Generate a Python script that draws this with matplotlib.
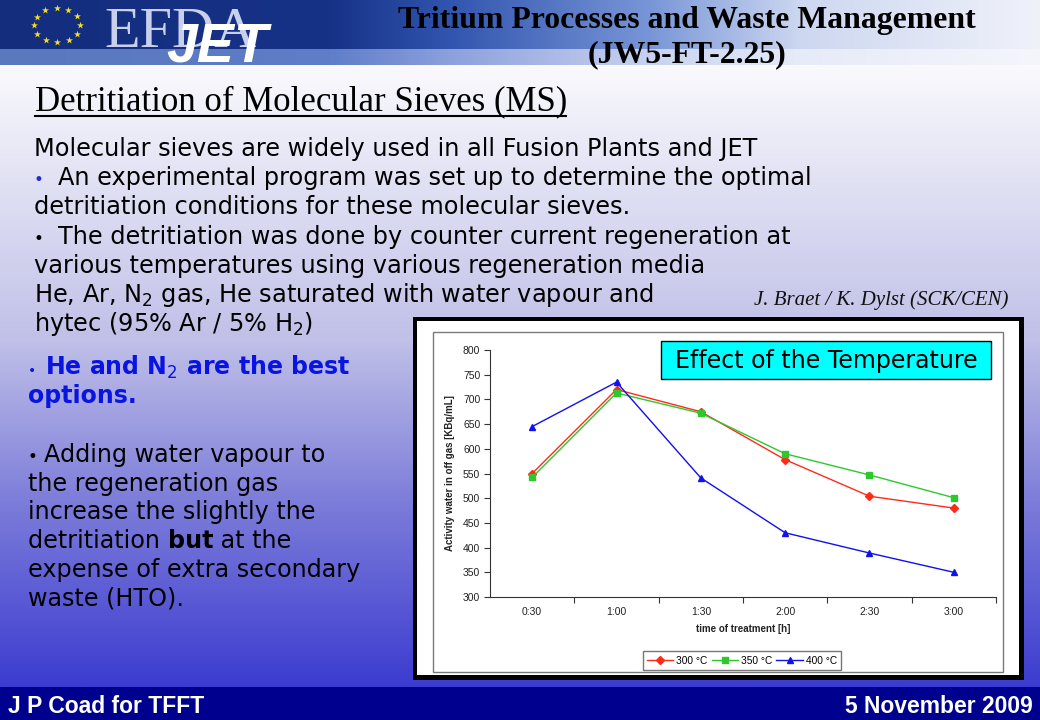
import numpy as np
import matplotlib
matplotlib.use("Agg")
import matplotlib.pyplot as plt
from matplotlib.patches import Rectangle

# ---------------- data ----------------
times = ["0:30", "1:00", "1:30", "2:00", "2:30", "3:00"]
series_labels = ["300 °C", "350 °C", "400 °C"]
act_300 = [550, 720, 675, 578, 504, 480]
act_350 = [542, 713, 672, 590, 547, 501]
act_400 = [645, 735, 541, 430, 389, 350]
y_ticks = [300, 350, 400, 450, 500, 550, 600, 650, 700, 750, 800]

W, H = 1040, 720
fig = plt.figure(figsize=(W / 100, H / 100), dpi=100)

# background axes in pixel coordinates
bg = fig.add_axes([0, 0, 1, 1])
bg.set_xlim(0, W)
bg.set_ylim(H, 0)
bg.axis("off")

# slide vertical gradient
ys = np.arange(H)
stops_y = [0, 65, 130, 340, 500, 690, 720]
r = np.interp(ys, stops_y, [250, 250, 236, 192, 125, 58, 58])
g = np.interp(ys, stops_y, [250, 250, 236, 192, 125, 58, 58])
b = np.interp(ys, stops_y, [253, 253, 248, 232, 218, 208, 208])
grad = np.stack([r, g, b], axis=1)[:, None, :] / 255.0
grad = np.repeat(grad, 2, axis=1)
bg.imshow(grad, extent=[0, W, H, 0], aspect="auto", zorder=0)

# header banner
bx = np.arange(W)
bh = 65
ban = np.zeros((bh, W, 3))
xs_stop = [0, 330, 450, 650, 800, 1040]
top_r = np.interp(bx, xs_stop, [20, 22, 50, 120, 205, 240])
top_g = np.interp(bx, xs_stop, [45, 50, 85, 150, 215, 242])
top_b = np.interp(bx, xs_stop, [125, 135, 175, 215, 240, 250])
bot_r = np.interp(bx, xs_stop, [90, 95, 140, 200, 230, 245])
bot_g = np.interp(bx, xs_stop, [120, 125, 160, 210, 235, 246])
bot_b = np.interp(bx, xs_stop, [190, 200, 220, 240, 248, 252])
for yy in range(bh):
    f = 0.0 if yy < 49 else 1.0
    ban[yy, :, 0] = top_r * (1 - f) + bot_r * f
    ban[yy, :, 1] = top_g * (1 - f) + bot_g * f
    ban[yy, :, 2] = top_b * (1 - f) + bot_b * f
bg.imshow(ban / 255.0, extent=[0, W, bh, 0], aspect="auto", zorder=1)

# EU stars
ang = np.linspace(0, 2 * np.pi, 13)[:-1]
bg.scatter(57 + 23 * np.cos(ang), 25 + 17 * np.sin(ang), marker="*", s=28,
           color="#f5e020", zorder=3, linewidths=0)
bg.text(104, 47, "EFDA", family="Liberation Serif", fontsize=42, color="#c9d0ee",
        va="baseline", ha="left", zorder=3)
bg.text(166, 62, "JET", family="Liberation Sans", fontsize=40, color="white",
        fontweight="bold", fontstyle="italic", va="baseline", ha="left", zorder=4)

# header title
bg.text(687, 28, "Tritium Processes and Waste Management", family="Liberation Serif",
        fontweight="bold", fontsize=22.9, ha="center", va="baseline", color="black", zorder=5)
bg.text(687, 62, "(JW5-FT-2.25)", family="Liberation Serif",
        fontweight="bold", fontsize=22.9, ha="center", va="baseline", color="black", zorder=5)

# section heading
bg.text(35, 110, "Detritiation of Molecular Sieves (MS)", family="Liberation Serif",
        fontsize=25, ha="left", va="baseline", color="black", zorder=5)
bg.plot([35, 566], [116, 116], color="black", lw=1.5, zorder=5)

fig.canvas.draw()
renderer = fig.canvas.get_renderer()


def rich(x, y, pieces, size, family="DejaVu Sans"):
    for s, kw in pieces:
        kw = dict(kw)
        fs = kw.pop("fontsize", size)
        if "x" in kw:
            x = kw.pop("x")
        t = bg.text(x, y, s, fontsize=fs, family=family, ha="left",
                    va="baseline", zorder=6, **kw)
        x += t.get_window_extent(renderer).width


body = 17.3
blk = {"color": "black"}
lines_top = [
    [("Molecular sieves are widely used in all Fusion Plants and JET", blk)],
    [("•", {"color": "#2030d0", "fontsize": 12, "x": 34}),
     ("An experimental program was set up to determine the optimal", {"color": "black", "x": 58})],
    [("detritiation conditions for these molecular sieves.", blk)],
    [("•", {"color": "black", "fontsize": 12, "x": 34}),
     ("The detritiation was done by counter current regeneration at", {"color": "black", "x": 58})],
    [("various temperatures using various regeneration media", blk)],
    [("He, Ar, N$_2$ gas, He saturated with water vapour and", blk)],
    [("hytec (95% Ar / 5% H$_2$)", blk)],
]
for i, ln in enumerate(lines_top):
    rich(34, 156 + 29.2 * i, ln, body)

blue = {"color": "#0a14e0", "fontweight": "bold"}
rich(28, 375, [("•", {"color": "#0a14e0", "fontsize": 10}),
               ("He and N$_2$ are the best", dict(blue, x=45))], 17)
rich(28, 403, [("options.", blue)], 17)

left_lines = [
    [("•", {"color": "black", "fontsize": 12}), ("Adding water vapour to", {"color": "black", "x": 44})],
    [("the regeneration gas", blk)],
    [("increase the slightly the", blk)],
    [("detritiation ", blk), ("but", {"color": "black", "fontweight": "bold"}), (" at the", blk)],
    [("expense of extra secondary", blk)],
    [("waste (HTO).", blk)],
]
for i, ln in enumerate(left_lines):
    rich(28, 462 + 28.7 * i, ln, 17.2)

bg.text(1008, 305, "J. Braet / K. Dylst (SCK/CEN)", family="Liberation Serif",
        fontstyle="italic", fontsize=15, ha="right", va="baseline", color="#111111", zorder=5)

# chart frame
bg.add_patch(Rectangle((413, 317), 611, 363, facecolor="black", edgecolor="none", zorder=2))
bg.add_patch(Rectangle((417, 321), 602, 354, facecolor="white", edgecolor="none", zorder=2))
bg.add_patch(Rectangle((433, 332), 570, 340, facecolor="none", edgecolor="#7a7a7a",
                       lw=1.0, zorder=3))

# bottom bar
bg.add_patch(Rectangle((0, 687), W, 33, facecolor="#00008e", edgecolor="none", zorder=2))
bg.text(8, 713, "J P Coad for TFFT", family="Liberation Sans", fontweight="bold",
        fontsize=16.5, color="white", ha="left", va="baseline", zorder=5)
bg.text(1033, 713, "5 November 2009", family="Liberation Sans", fontweight="bold",
        fontsize=16.5, color="white", ha="right", va="baseline", zorder=5)

# ---------------- chart ----------------
L, R, T, B = 490, 996, 350, 597
ax = fig.add_axes([L / W, (H - B) / H, (R - L) / W, (B - T) / H])
ax.set_facecolor("none")
x = np.arange(len(times))
ax.plot(x, act_300, color="#ff2a1a", lw=1.0, marker="D", ms=4, label=series_labels[0])
ax.plot(x, act_350, color="#2ec82e", lw=1.0, marker="s", ms=4.5, label=series_labels[1])
ax.plot(x, act_400, color="#1010f0", lw=1.0, marker="^", ms=5, label=series_labels[2])
ax.set_xlim(-0.5, len(times) - 0.5)
ax.set_ylim(300, 800)
ax.set_yticks(y_ticks)
ax.set_xticks(x)
ax.set_xticklabels(times)
ax.set_xticks(np.arange(len(times)) + 0.5, minor=True)
ax.tick_params(axis="x", which="major", length=0, pad=7)
ax.tick_params(axis="x", which="minor", length=4, direction="out", width=0.8, color="#333333")
ax.tick_params(axis="y", length=4, direction="out", width=0.8, color="#333333", pad=3)
for lab in ax.get_xticklabels() + ax.get_yticklabels():
    lab.set_family("Liberation Sans")
    lab.set_fontsize(7.5)
    lab.set_color("#222222")
for s in ["top", "right"]:
    ax.spines[s].set_visible(False)
for s in ["left", "bottom"]:
    ax.spines[s].set_color("#333333")
    ax.spines[s].set_linewidth(0.8)
ax.set_xlabel("time of treatment [h]", family="Liberation Sans", fontweight="bold",
              fontsize=7, labelpad=5, color="#222222")
ax.set_ylabel("Activity water in off gas [KBq/mL]", family="Liberation Sans",
              fontweight="bold", fontsize=7, labelpad=6, color="#222222")

leg = ax.legend(loc="center", bbox_to_anchor=(742 / W, (H - 660.5) / H),
                bbox_transform=fig.transFigure, ncol=3, frameon=True, fancybox=False,
                prop={"family": "Liberation Sans", "size": 7.3}, handlelength=2.6,
                columnspacing=0.4, handletextpad=0.3, borderpad=0.4)
leg.get_frame().set_edgecolor("#555555")
leg.get_frame().set_linewidth(1.0)

# overlay: title box
ov = fig.add_axes([0, 0, 1, 1])
ov.set_xlim(0, W)
ov.set_ylim(H, 0)
ov.axis("off")
ov.patch.set_alpha(0)
ov.add_patch(Rectangle((661, 341), 330, 38, facecolor="#00ffff", edgecolor="black", lw=1.0))
ov.text(826, 361, "Effect of the Temperature", family="DejaVu Sans", fontsize=17,
        ha="center", va="center", color="black")

fig.savefig("out.png", dpi=100)
